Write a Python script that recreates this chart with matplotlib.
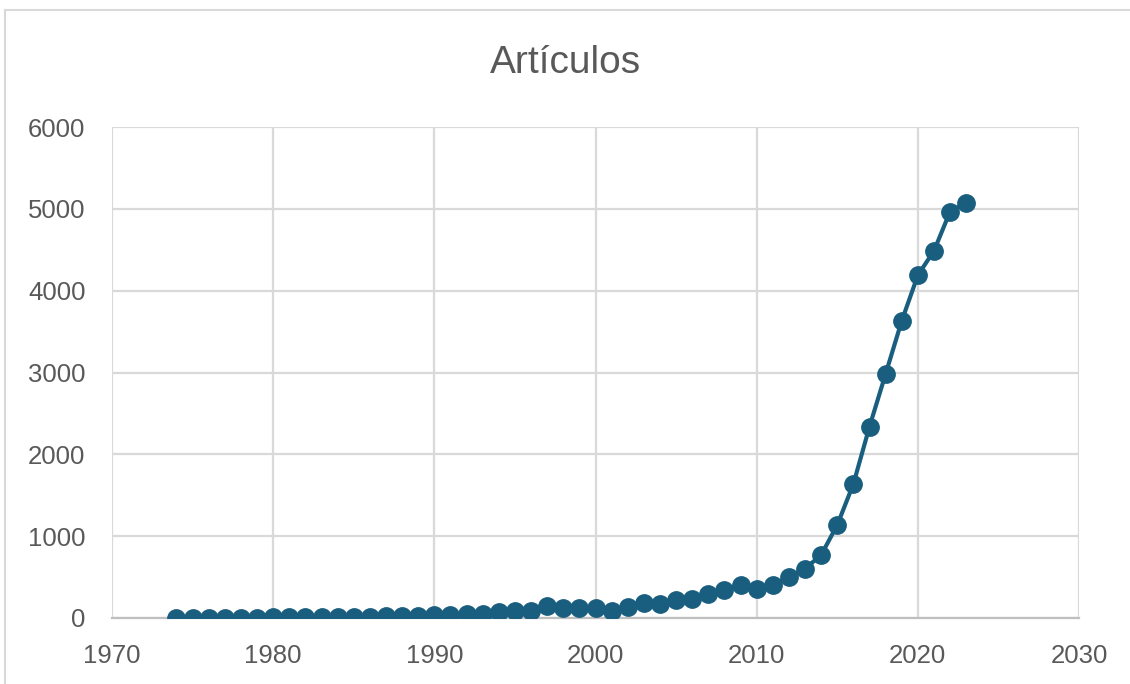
import matplotlib
matplotlib.use('Agg')
import matplotlib.pyplot as plt
from matplotlib.lines import Line2D

# Articles per year
years = list(range(1974, 2024))
articulos = [2, 3, 4, 4, 5, 6, 7, 8, 9, 10,
             12, 14, 18, 22, 26, 30, 35, 42, 45, 50,
             77, 86, 90, 147, 118, 118, 118, 90, 138, 179,
             167, 220, 232, 293, 342, 403, 355, 403, 500, 603,
             770, 1137, 1638, 2339, 2983, 3631, 4189, 4487, 4967, 5077]

x_ticks = [1970, 1980, 1990, 2000, 2010, 2020, 2030]
y_ticks = [0, 1000, 2000, 3000, 4000, 5000, 6000]

plt.rcParams['font.family'] = ['Liberation Sans', 'DejaVu Sans']

fig = plt.figure(figsize=(11.3, 6.84), dpi=100)
ax = fig.add_axes([0.0991, 0.0965, 0.8558, 0.7178])

color = '#195e7f'
ax.plot(years, articulos, '-', color=color, linewidth=3, zorder=3)
ax.plot(years, articulos, 'o', color=color, markersize=12.5, zorder=4)

ax.set_xlim(1970, 2030)
ax.set_ylim(0, 6000)
ax.set_xticks(x_ticks)
ax.set_yticks(y_ticks)

ax.grid(True, color='#d9d9d9', linewidth=1.6, zorder=0)
ax.set_axisbelow(True)
for side in ['top', 'right', 'left']:
    ax.spines[side].set_visible(False)
ax.spines['bottom'].set_color('#bfbfbf')
ax.spines['bottom'].set_linewidth(1.6)
ax.spines['bottom'].set_zorder(1)

ax.tick_params(axis='both', length=0, labelsize=18.5, labelcolor='#595959')
ax.tick_params(axis='x', pad=19)
ax.tick_params(axis='y', pad=19)

fig.text(0.5, 0.908, "Artículos", ha='center', va='center', fontsize=28, color='#595959')

# chart area border (only top and left edges visible in the reference)
fig.add_artist(Line2D([0.004, 1.0], [0.986, 0.986], transform=fig.transFigure, color='#d9d9d9', linewidth=1.5))
fig.add_artist(Line2D([0.004, 0.004], [0.0, 0.986], transform=fig.transFigure, color='#d9d9d9', linewidth=1.5))

fig.savefig('out.png', dpi=100)
